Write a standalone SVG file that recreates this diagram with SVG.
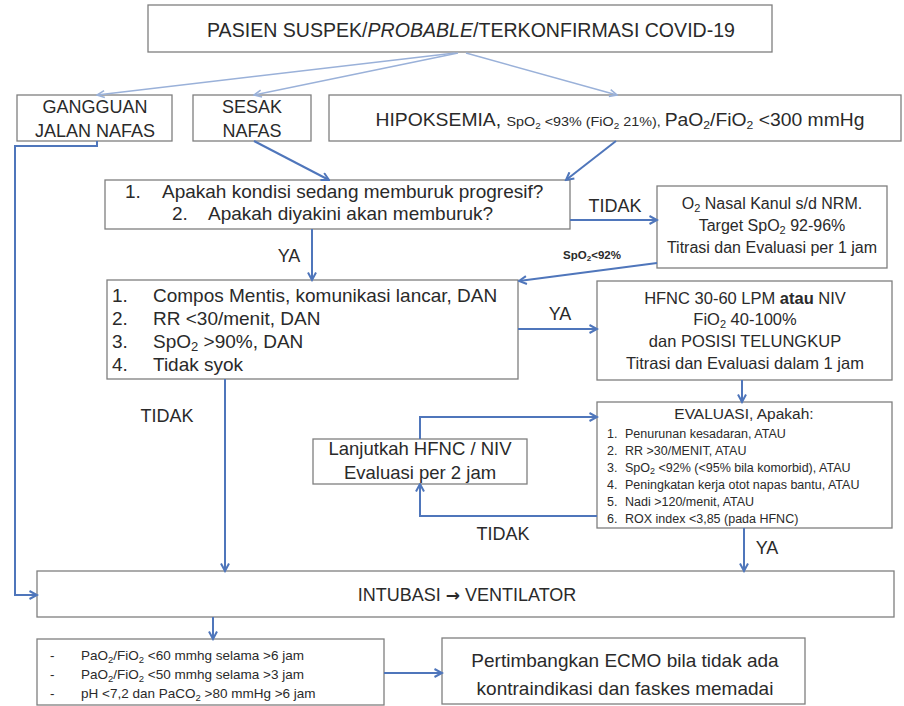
<svg xmlns="http://www.w3.org/2000/svg" width="904" height="706" viewBox="0 0 904 706">
  <defs>
    <style>
      text { font-family: "Liberation Sans", Arial, sans-serif; fill: #2a2a2a; }
      .m { text-anchor: middle; }
      .box { fill: #ffffff; stroke: #7f7f7f; stroke-width: 1.3; }
      .c { fill: none; stroke: #4f76bb; stroke-width: 2; marker-end: url(#ah); }
      .cl { fill: none; stroke: #9ab1d9; stroke-width: 1.5; marker-end: url(#ahl); }
      .lbl { font-size: 18px; }
    </style>
    <marker id="ah" viewBox="0 0 10 10" refX="8.5" refY="5" markerWidth="10" markerHeight="10" markerUnits="userSpaceOnUse" orient="auto">
      <path d="M1,1 L8.5,5 L1,9" fill="none" stroke="#4f76bb" stroke-width="2"/>
    </marker>
    <marker id="ahl" viewBox="0 0 10 10" refX="8.5" refY="5" markerWidth="10" markerHeight="10" markerUnits="userSpaceOnUse" orient="auto">
      <path d="M1,1.5 L8.5,5 L1,8.5" fill="none" stroke="#9ab1d9" stroke-width="1.6"/>
    </marker>
  </defs>

  <rect width="904" height="706" fill="#ffffff"/>

  <!-- nodes -->
  <g id="pasien">
    <rect class="box" x="148" y="5" width="624" height="47"/>
    <text class="m" x="471" y="37" font-size="19.5" textLength="528" lengthAdjust="spacingAndGlyphs">PASIEN SUSPEK/<tspan font-style="italic">PROBABLE</tspan>/TERKONFIRMASI COVID-19</text>
  </g>

  <g id="gangguan">
    <rect class="box" x="17" y="95" width="155" height="46"/>
    <text class="m" x="95" y="112.5" font-size="18">GANGGUAN</text>
    <text class="m" x="95" y="136.5" font-size="18">JALAN NAFAS</text>
  </g>

  <g id="sesak">
    <rect class="box" x="193" y="95" width="118" height="46"/>
    <text class="m" x="252" y="112.5" font-size="18">SESAK</text>
    <text class="m" x="252" y="136.5" font-size="18">NAFAS</text>
  </g>

  <g id="hipoksemia">
    <rect class="box" x="329" y="95" width="572" height="46"/>
    <text class="m" x="620" y="126" font-size="17.5" textLength="489" lengthAdjust="spacingAndGlyphs">HIPOKSEMIA, <tspan font-size="13">SpO<tspan dy="3" font-size="9">2</tspan><tspan dy="-3"> &lt;93% (FiO</tspan><tspan dy="3" font-size="9">2</tspan><tspan dy="-3"> 21%), </tspan></tspan>PaO<tspan dy="3" font-size="11">2</tspan><tspan dy="-3">/FiO</tspan><tspan dy="3" font-size="11">2</tspan><tspan dy="-3"> &lt;300 mmHg</tspan></text>
  </g>

  <g id="pertanyaan">
    <rect class="box" x="105" y="180" width="465" height="49"/>
    <text x="125" y="197.5" font-size="19">1.</text>
    <text x="162" y="197.5" font-size="19">Apakah kondisi sedang memburuk progresif?</text>
    <text x="172" y="219.5" font-size="19">2.</text>
    <text x="208" y="219.5" font-size="19">Apakah diyakini akan memburuk?</text>
  </g>

  <g id="oksigen">
    <rect class="box" x="657" y="186" width="230" height="82"/>
    <text class="m" x="772" y="209" font-size="16">O<tspan dy="3" font-size="11">2</tspan><tspan dy="-3"> Nasal Kanul s/d NRM.</tspan></text>
    <text class="m" x="772" y="231" font-size="16">Target SpO<tspan dy="3" font-size="11">2</tspan><tspan dy="-3"> 92-96%</tspan></text>
    <text class="m" x="772" y="253" font-size="16">Titrasi dan Evaluasi per 1 jam</text>
  </g>

  <g id="kriteria">
    <rect class="box" x="107" y="280" width="411" height="99"/>
    <text x="112" y="302" font-size="19">1.</text>
    <text x="153" y="302" font-size="19">Compos Mentis, komunikasi lancar, DAN</text>
    <text x="112" y="325" font-size="19">2.</text>
    <text x="153" y="325" font-size="19">RR &lt;30/menit, DAN</text>
    <text x="112" y="348" font-size="19">3.</text>
    <text x="153" y="348" font-size="19">SpO<tspan dy="3" font-size="13">2</tspan><tspan dy="-3"> &gt;90%, DAN</tspan></text>
    <text x="112" y="371" font-size="19">4.</text>
    <text x="153" y="371" font-size="19">Tidak syok</text>
  </g>

  <g id="hfnc">
    <rect class="box" x="597" y="281" width="295" height="99"/>
    <text class="m" x="745" y="304" font-size="16.5">HFNC 30-60 LPM <tspan font-weight="bold">atau</tspan> NIV</text>
    <text class="m" x="745" y="325" font-size="16.5">FiO<tspan dy="3" font-size="11">2</tspan><tspan dy="-3"> 40-100%</tspan></text>
    <text class="m" x="745" y="347" font-size="16.5">dan POSISI TELUNGKUP</text>
    <text class="m" x="745" y="369" font-size="16.5">Titrasi dan Evaluasi dalam 1 jam</text>
  </g>

  <g id="evaluasi">
    <rect class="box" x="597" y="402" width="295" height="126"/>
    <text class="m" x="744" y="419" font-size="15.5">EVALUASI, Apakah:</text>
    <g font-size="12.5">
      <text x="607" y="437.5">1.</text><text x="625" y="437.5">Penurunan kesadaran, ATAU</text>
      <text x="607" y="454.5">2.</text><text x="625" y="454.5">RR &gt;30/MENIT, ATAU</text>
      <text x="607" y="471.5">3.</text><text x="625" y="471.5">SpO<tspan dy="2.5" font-size="9">2</tspan><tspan dy="-2.5"> &lt;92% (&lt;95% bila komorbid), ATAU</tspan></text>
      <text x="607" y="488.5">4.</text><text x="625" y="488.5">Peningkatan kerja otot napas bantu, ATAU</text>
      <text x="607" y="505.5">5.</text><text x="625" y="505.5">Nadi &gt;120/menit, ATAU</text>
      <text x="607" y="522.5">6.</text><text x="625" y="522.5">ROX index &lt;3,85 (pada HFNC)</text>
    </g>
  </g>

  <g id="lanjutkan">
    <rect class="box" x="313" y="439" width="214" height="45"/>
    <text class="m" x="420" y="454.5" font-size="18.5">Lanjutkah HFNC / NIV</text>
    <text class="m" x="420" y="478.5" font-size="18.5">Evaluasi per 2 jam</text>
  </g>

  <g id="intubasi">
    <rect class="box" x="37" y="571" width="857" height="46"/>
    <text class="m" x="467" y="600.5" font-size="18">INTUBASI <tspan font-family="DejaVu Sans, sans-serif" font-weight="bold" font-size="17">→</tspan> VENTILATOR</text>
  </g>

  <g id="indikasi-ecmo">
    <rect class="box" x="37" y="639" width="347" height="66"/>
    <g font-size="13.5">
      <text x="50" y="660">-</text>
      <text x="81" y="660">PaO<tspan dy="2.5" font-size="9.5">2</tspan><tspan dy="-2.5">/FiO</tspan><tspan dy="2.5" font-size="9.5">2</tspan><tspan dy="-2.5"> &lt;60 mmhg selama &gt;6 jam</tspan></text>
      <text x="50" y="679">-</text>
      <text x="81" y="679">PaO<tspan dy="2.5" font-size="9.5">2</tspan><tspan dy="-2.5">/FiO</tspan><tspan dy="2.5" font-size="9.5">2</tspan><tspan dy="-2.5"> &lt;50 mmhg selama &gt;3 jam</tspan></text>
      <text x="50" y="698">-</text>
      <text x="81" y="698">pH &lt;7,2 dan PaCO<tspan dy="2.5" font-size="9.5">2</tspan><tspan dy="-2.5"> &gt;80 mmHg &gt;6 jam</tspan></text>
    </g>
  </g>

  <g id="ecmo">
    <rect class="box" x="442" y="638" width="363" height="66"/>
    <text class="m" x="625" y="667" font-size="19">Pertimbangkan ECMO bila tidak ada</text>
    <text class="m" x="625" y="695" font-size="19">kontraindikasi dan faskes memadai</text>
  </g>

  <!-- connectors -->
  <g id="connectors">
    <path class="cl" d="M455,53 L97,95"/>
    <path class="cl" d="M458,53 L254,95"/>
    <path class="cl" d="M466,53 L617,95"/>
    <path class="c" d="M254,141 L329,180"/>
    <path class="c" d="M616,141 L566,180"/>
    <path class="c" d="M97,141 V146 H15 V595 H37"/>
    <path class="c" d="M312,229 V280"/>
    <path class="c" d="M570,220 H657"/>
    <path class="c" d="M657,263 L519,281"/>
    <path class="c" d="M518,329 H597"/>
    <path class="c" d="M742,380 V402"/>
    <path class="c" d="M225,379 V571"/>
    <path class="c" d="M597,516 H420 V484"/>
    <path class="c" d="M420,439 V417 H597"/>
    <path class="c" d="M744,528 V571"/>
    <path class="c" d="M213,617 V639"/>
    <path class="c" d="M384,673 H442"/>
  </g>

  <!-- connector labels -->
  <g id="labels">
    <text class="m lbl" x="289" y="262">YA</text>
    <text class="m lbl" x="615" y="212">TIDAK</text>
    <text class="m" x="592" y="259" font-size="11.5" font-weight="bold">SpO<tspan dy="2" font-size="8">2</tspan><tspan dy="-2">&lt;92%</tspan></text>
    <text class="m lbl" x="560" y="320">YA</text>
    <text class="m lbl" x="167" y="422">TIDAK</text>
    <text class="m lbl" x="503" y="540">TIDAK</text>
    <text class="m lbl" x="767" y="554">YA</text>
  </g>
</svg>
